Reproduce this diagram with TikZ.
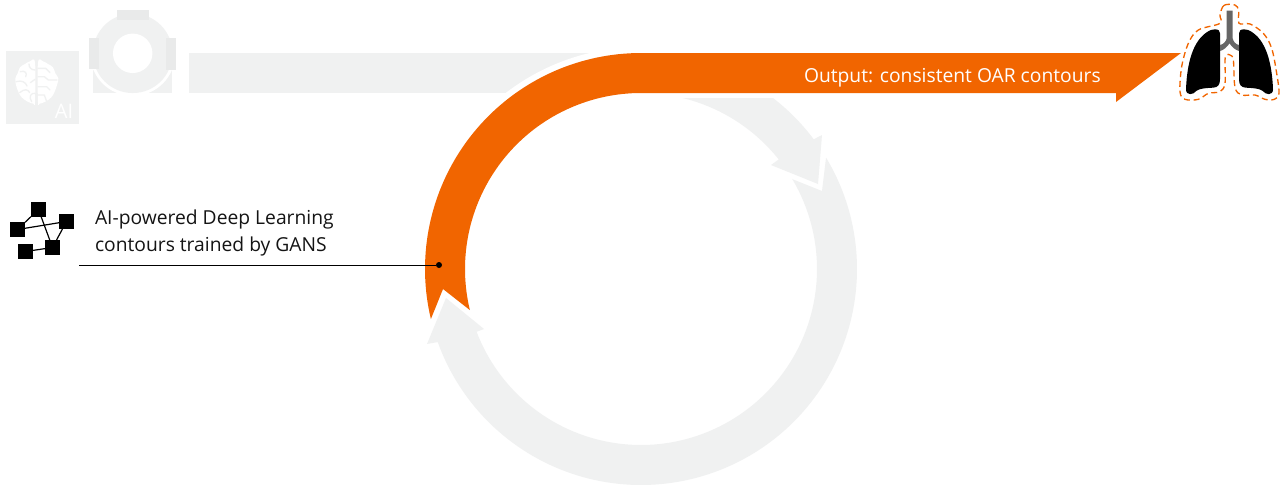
\documentclass[tikz,border=0pt]{standalone}
\usepackage{fontspec}
\setmainfont{Open Sans}
\definecolor{sorange}{HTML}{F16500}
\definecolor{sgray}{HTML}{F0F1F1}
\definecolor{sgrayd}{HTML}{E9EAEA}
\definecolor{stem}{HTML}{666666}
\definecolor{ink}{HTML}{141414}
\tikzset{
  netbox/.style={draw=none,fill=black,minimum size=11.25pt,inner sep=0pt,outer sep=0pt},
  netline/.style={draw=black,line width=0.9pt},
  label/.style={inner sep=0pt,outer sep=0pt,font=\fontsize{14.45pt}{20.6pt}\selectfont},
  braincut/.style={draw=sgray,line width=1pt,line cap=round,line join=round},
  lung/.style={fill=black},
  zoomed/.style={x=0.25pt,y=-0.25pt},
}
\begin{document}
\begin{tikzpicture}[x=0.75pt,y=-0.75pt]
\useasboundingbox (0,0) rectangle (1284,486);
% grey process band
\fill[sgray] (189,53) rectangle (641,93);
\fill[white] (641,269) circle[radius=166.5pt];
% grey arc, first part
\fill[sgray] (773,98) -- plot[domain=52.3:36.9,samples=30] ({641+216*cos(\x)},{269-216*sin(\x)})
  -- (822,135) -- (818,184) -- (771,165) -- (778,160)
  -- plot[domain=38.5:76.2,samples=40] ({641+176*cos(\x)},{269-176*sin(\x)}) -- cycle;
% grey arc, second part
\fill[sgray] (826,158) -- (822,191) -- (792,179)
  -- plot[domain=30.8:-159.1,samples=120] ({641+176*cos(\x)},{269-176*sin(\x)})
  -- (484,329) -- (446,298) -- (427,344) -- (438,342)
  -- plot[domain=-160.2:31,samples=120] ({641+216*cos(\x)},{269-216*sin(\x)}) -- cycle;
% orange arrow
\fill[sorange] (1181,53) -- (1116,102) -- (1116,93) -- (641,93)
  -- plot[domain=90:193.5,samples=70] ({641+176*cos(\x)},{269-176*sin(\x)})
  -- (443,289)
  -- plot[domain=193.4:90,samples=70] ({641+216*cos(\x)},{269-216*sin(\x)}) -- cycle;
\node[label,text=white,anchor=base west] (output) at (804,82.7) {Output: consistent OAR contours};
% brain tile
\fill[sgray] (6,51) rectangle (79,124);
\begin{scope}[shift={(5,50)},zoomed]
  \fill[white] plot[smooth cycle,tension=0.6] coordinates {(90,38)(75,34)(60,42)(45,52)(38,70)(31,85)(33,105)(40,125)(50,142)(68,155)(85,161)(90,155)};
  \fill[white] plot[smooth cycle,tension=0.6] coordinates {(99,38)(114,34)(129,42)(144,52)(151,70)(160,85)(156,105)(149,125)(139,142)(121,155)(104,161)(99,155)};
  \draw[braincut] (46,65) .. controls (60,60) and (68,70) .. (62,80);
  \draw[braincut] (90,60) .. controls (78,60) and (72,52) .. (72,42);
  \draw[braincut] (33,95) .. controls (50,90) and (62,96) .. (66,108);
  \draw[braincut] (90,88) -- (76,98);
  \draw[braincut] (44,128) .. controls (58,115) and (70,118) .. (74,128);
  \draw[braincut] (90,130) .. controls (78,128) and (70,140) .. (80,155);
  \draw[braincut] (99,55) -- (122,55) -- (135,68);
  \draw[braincut] (99,80) -- (118,80) -- (130,90) -- (156,90);
  \draw[braincut] (99,110) -- (125,110) -- (135,120);
  \draw[braincut] (99,135) -- (118,135) -- (124,152);
\end{scope}
\node[anchor=base,inner sep=0pt,text=white,font=\fontsize{15pt}{18pt}\selectfont] (ai) at (64,118) {AI};
% gantry
\fill[sgray] (93.3,70) rectangle (172.3,93);
\fill[white] (132.7,53.3) circle[radius=32pt];
\fill[sgray] (132.7,53.3) circle[radius=29.8pt];
\fill[white] (132.7,53.3) circle[radius=14.8pt];
\fill[sgrayd] (117,10) rectangle (149,20);
\fill[sgrayd] (89.3,37.7) rectangle (99.3,69);
\fill[sgrayd] (166,37.7) rectangle (176,70);
% network icon
\node[netbox] (na) at (38.5,209.5) {};
\node[netbox] (nb) at (17.5,229.5) {};
\node[netbox] (nc) at (66.5,221.5) {};
\node[netbox] (nd) at (52.5,247.5) {};
\node[netbox] (ne) at (25.5,251.5) {};
\draw[netline] (na) -- (nb);
\draw[netline] (nb) -- (nc);
\draw[netline] (na) -- (nd);
\draw[netline] (nc) -- (nd);
\draw[netline] (nd) -- (ne);
% label and leader
\node[label,text=ink,anchor=base west] (line1) at (95,224) {AI-powered Deep Learning};
\node[label,text=ink,anchor=base west] (line2) at (95,251.7) {contours trained by GANS};
\coordinate (leadstart) at (79,265);
\node[circle,fill=black,minimum size=4.5pt,inner sep=0pt,outer sep=0pt] (dot) at (439,265) {};
\draw[black,line width=0.7pt] (leadstart) -- (dot);
% lungs
\begin{scope}[shift={(1175,0)},zoomed]
  \path[lung] (120,88) .. controls (130,88) and (135,92) .. (135,100) -- (135,238)
    .. controls (135,255) and (128,262) .. (115,263)
    .. controls (95,264) and (75,265) .. (65,272)
    .. controls (55,285) and (33,288) .. (33,268)
    .. controls (35,215) and (45,130) .. (95,97)
    .. controls (105,90) and (112,88) .. (120,88) -- cycle;
  \path[lung] (207,88) .. controls (197,88) and (192,92) .. (192,100) -- (192,238)
    .. controls (192,255) and (199,262) .. (212,263)
    .. controls (232,264) and (252,265) .. (262,272)
    .. controls (272,285) and (294,288) .. (294,268)
    .. controls (292,215) and (282,130) .. (232,97)
    .. controls (222,90) and (215,88) .. (207,88) -- cycle;
  \fill[stem] (155,32) -- (173,32) -- (173,115) .. controls (175,125) and (182,133) .. (192,135) -- (192,153)
     .. controls (180,150) and (170,140) .. (163.5,130)
     .. controls (157,140) and (147,150) .. (135,153) -- (135,135)
     .. controls (145,133) and (153,125) .. (155,115) -- cycle;
  \draw[sorange,line width=1pt,dash pattern=on 4.5pt off 2.8pt] plot[smooth cycle,tension=0.55] coordinates {
    (135,45)(147,16)(180,15)(191,32)(192,70)(225,72)(265,100)(290,145)(305,220)(312,280)(298,298)(270,298)(240,285)(200,285)(180,262)(175,180)(165,165)(155,165)(150,180)(150,250)(135,275)(100,280)(70,298)(30,298)(15,275)(20,200)(40,130)(70,90)(135,70)};
\end{scope}
\end{tikzpicture}
\end{document}
